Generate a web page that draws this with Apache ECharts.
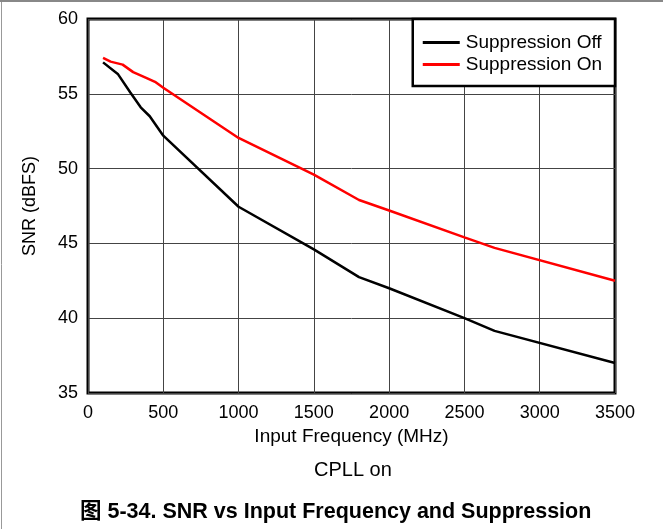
<!DOCTYPE html>
<html>
<head>
<meta charset="utf-8">
<script src="https://cdn.jsdelivr.net/npm/echarts@6/dist/echarts.min.js"></script>
<style>
  html, body { margin: 0; padding: 0; background: #fff; }
  #chart { width: 663px; height: 529px; }
</style>
</head>
<body>
<div id="chart"></div>
<script>
// Data (frequency in MHz, SNR in dBFS)
var seriesNames = ["Suppression Off", "Suppression On"];
var offFreq = [100, 200, 280, 350, 410, 500, 1000, 1500, 1800, 2000, 2500, 2700, 3500];
var offSnr  = [57.1, 56.3, 55.1, 54.1, 53.5, 52.2, 47.45, 44.6, 42.75, 42.0, 40.0, 39.15, 37.0];
var onFreq  = [100, 150, 230, 300, 390, 445, 500, 1000, 1500, 1800, 2000, 2500, 2700, 3500];
var onSnr   = [57.4, 57.15, 56.95, 56.45, 56.05, 55.8, 55.4, 52.05, 49.6, 47.9, 47.2, 45.4, 44.7, 42.5];
var xTicks = { min: 0, max: 3500, step: 500 };
var yTicks = { min: 35, max: 60, step: 5 };

function pairs(xs, ys) {
	return xs.map(function (x, i) { return [x, ys[i]]; });
}

var chart = echarts.init(document.getElementById("chart"), null, { renderer: "canvas" });

var fontName = "Liberation Sans, Arial, sans-serif";
var tickFont = { fontFamily: fontName, fontSize: 18, color: "#000" };
var nameFont = { fontFamily: fontName, fontSize: 19, color: "#000" };

chart.setOption({
	animation: false,
	backgroundColor: "#fff",
	textStyle: { fontFamily: fontName },
	grid: {
		left: 88, right: 48, top: 19, bottom: 136,
		show: true, borderColor: "#000", borderWidth: 3,
		containLabel: false
	},
	legend: {
		right: 48, top: 19,
		orient: "vertical",
		data: seriesNames,
		icon: "rect",
		itemWidth: 37, itemHeight: 3, itemGap: 3,
		padding: [14, 13, 12, 10],
		backgroundColor: "#fff",
		borderColor: "#000", borderWidth: 2.5, borderRadius: 0,
		textStyle: { fontSize: 19, color: "#000", fontFamily: fontName, padding: [0, 0, 0, 1] }
	},
	xAxis: {
		type: "value",
		min: xTicks.min, max: xTicks.max, interval: xTicks.step,
		name: "Input Frequency (MHz)",
		nameLocation: "middle", nameGap: 34,
		nameTextStyle: nameFont,
		axisLine: { show: false },
		axisTick: { show: false },
		axisLabel: Object.assign({ margin: 11, formatter: function (v) { return String(v); } }, tickFont),
		splitLine: { show: true, lineStyle: { color: "#444", width: 1 } }
	},
	yAxis: {
		type: "value",
		min: yTicks.min, max: yTicks.max, interval: yTicks.step,
		name: "SNR (dBFS)",
		nameLocation: "middle", nameGap: 49,
		nameTextStyle: { fontFamily: fontName, fontSize: 18, color: "#000" },
		axisLine: { show: false },
		axisTick: { show: false },
		axisLabel: Object.assign({ margin: 10 }, tickFont),
		splitLine: { show: true, lineStyle: { color: "#444", width: 1 } }
	},
	series: [
		{
			name: seriesNames[0], type: "line", symbol: "none",
			data: pairs(offFreq, offSnr),
			lineStyle: { color: "#000", width: 2.5 },
			itemStyle: { color: "#000" },
			z: 3
		},
		{
			name: seriesNames[1], type: "line", symbol: "none",
			data: pairs(onFreq, onSnr),
			lineStyle: { color: "#ff0000", width: 2.5 },
			itemStyle: { color: "#ff0000" },
			z: 4
		}
	],
	graphic: [
		// page frame remnants on the left and top
		{
			type: "line", silent: true,
			shape: { x1: 1.5, y1: 0, x2: 1.5, y2: 529 },
			style: { stroke: "#999", lineWidth: 1 }
		},
		{
			type: "line", silent: true,
			shape: { x1: 0, y1: 1, x2: 663, y2: 1 },
			style: { stroke: "#888", lineWidth: 2 }
		},
		{
			type: "text", left: 314, top: 460, silent: true,
			style: { text: "CPLL on", fontSize: 20, fill: "#000", fontFamily: fontName }
		},
		{
			type: "text", left: 80, top: 501, silent: true,
			style: {
				text: "图 5-34. SNR vs Input Frequency and Suppression",
				fontSize: 21.5, fontWeight: "bold", fill: "#000",
				fontFamily: "Liberation Sans, Arial, Noto Sans CJK SC, sans-serif"
			}
		}
	]
});
</script>
</body>
</html>
